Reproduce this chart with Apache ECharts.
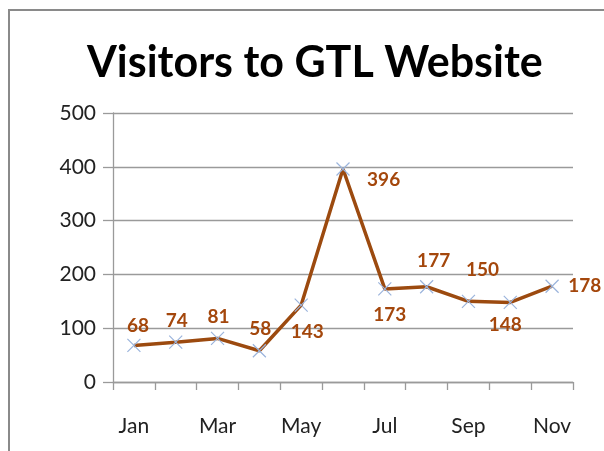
<!DOCTYPE html>
<html>
<head>
<meta charset="utf-8">
<script src="https://cdn.jsdelivr.net/npm/echarts@6/dist/echarts.min.js"></script>
<style>
html, body { margin: 0; padding: 0; background: #fff; }
#frame { position: absolute; left: 8px; top: 9px; width: 596px; height: 442px;
  border-left: 2px solid #8a8a8a; border-top: 2px solid #8a8a8a; }
#chart { position: absolute; left: 0; top: 0; width: 604px; height: 451px; }
</style>
</head>
<body>
<div id="frame"></div>
<div id="chart"></div>
<script>
// 数据
var months = ['Jan', 'Feb', 'Mar', 'Apr', 'May', 'Jun', 'Jul', 'Aug', 'Sep', 'Oct', 'Nov'];
var visitors = [68, 74, 81, 58, 143, 396, 173, 177, 150, 148, 178];
var yTicks = [0, 100, 200, 300, 400, 500];

// 标签位置（样式）
var labelPlace = [
	{ position: 'top', offset: [4, 2] },
	{ position: 'top', offset: [1, 0] },
	{ position: 'top', offset: [1, 0] },
	{ position: 'top', offset: [1, 0] },
	{ position: 'bottom', offset: [6, 5] },
	{ position: 'right', offset: [12, 11] },
	{ position: 'bottom', offset: [5, 4] },
	{ position: 'top', offset: [7, -4] },
	{ position: 'top', offset: [14, -10] },
	{ position: 'bottom', offset: [-5, 1] },
	{ position: 'right', offset: [4, 0] }
];

var gridStyle = { color: '#9a9a9a', width: 1.3 },
	fontFam = 'Lato, "Open Sans", sans-serif';

var chart = echarts.init(document.getElementById('chart'));

var option = {
	animation: false,
	title: {
		text: 'Visitors to GTL Website',
		left: 82,
		top: 37,
		textStyle: { fontFamily: fontFam, fontSize: 43, fontWeight: 'bold', color: '#000' }
	},
	grid: { left: 113, top: 113, right: 31, bottom: 69 },
	xAxis: {
		type: 'category',
		data: months,
		boundaryGap: true,
		axisLine: { lineStyle: gridStyle },
		axisTick: { show: true, length: 8, interval: 0, lineStyle: gridStyle },
		axisLabel: {
			interval: 1, margin: 34, color: '#222',
			fontFamily: fontFam, fontSize: 21
		}
	},
	yAxis: {
		type: 'value',
		min: yTicks[0],
		max: yTicks[yTicks.length - 1],
		interval: 100,
		axisLine: { show: true, lineStyle: gridStyle },
		axisTick: { show: true, length: 10, lineStyle: gridStyle },
		splitLine: { lineStyle: gridStyle },
		axisLabel: { margin: 17, color: '#222', fontFamily: fontFam, fontSize: 21 }
	},
	series: [{
		type: 'line',
		data: visitors,
		lineStyle: { color: '#9c4a0f', width: 3.5 },
		symbol: 'none',
		silent: true,
		z: 3
	}, {
		type: 'line',
		data: visitors.map(function(v, i) {
			return { value: v, label: labelPlace[i] };
		}),
		lineStyle: { width: 0, opacity: 0 },
		symbol: 'path://M0,0L10,10M10,0L0,10',
		symbolSize: 13,
		itemStyle: { color: 'transparent', borderColor: '#9bb4dc', borderWidth: 1.2 },
		label: {
			show: true,
			color: '#a4470c',
			fontFamily: fontFam,
			fontWeight: 'bold',
			fontSize: 19
		},
		z: 4
	}]
};
chart.setOption(option);
</script>
</body>
</html>
